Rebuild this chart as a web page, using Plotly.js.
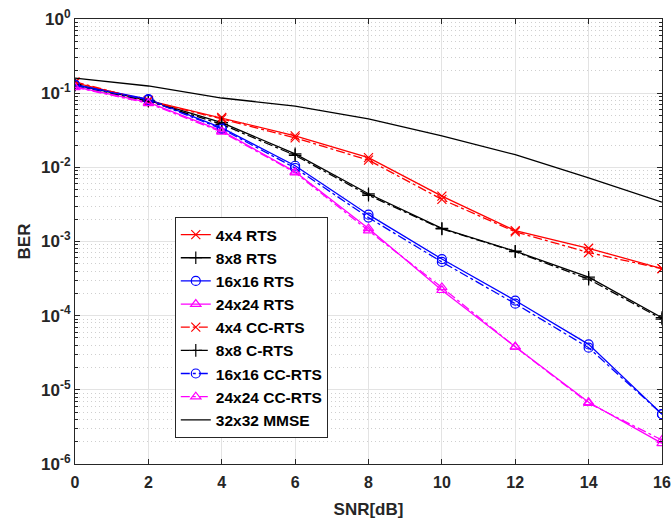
<!DOCTYPE html>
<html><head><meta charset="utf-8">
<script src="https://cdn.plot.ly/plotly-3.0.1.min.js"></script>
<style>html,body{margin:0;padding:0;background:#fff}#c{width:671px;height:519px}</style>
</head><body><div id="c"></div>
<script>
const snr = [0, 2, 4, 6, 8, 10, 12, 14, 16];
const rts4 = [0.138, 0.080, 0.047, 0.0266, 0.0135, 0.0041, 0.0014, 0.00081, 0.00043];
const rts8 = [0.130, 0.080, 0.040, 0.0152, 0.0044, 0.0015, 0.00074, 0.00033, 9.4e-5];
const rts16 = [0.130, 0.083, 0.034, 0.0105, 0.0023, 0.00058, 0.00016, 4.1e-5, 4.7e-6];
const rts24 = [0.122, 0.075, 0.031, 0.0087, 0.0015, 0.00022, 3.8e-5, 6.8e-6, 1.9e-6];
const cc4 = [0.142, 0.078, 0.045, 0.025, 0.0125, 0.0037, 0.00135, 0.00071, 0.00043];
const cc8 = [0.128, 0.078, 0.038, 0.0145, 0.0042, 0.00148, 0.00073, 0.00031, 9.0e-5];
const cc16 = [0.128, 0.081, 0.033, 0.0098, 0.0021, 0.00053, 0.000145, 3.7e-5, 4.7e-6];
const cc24 = [0.120, 0.073, 0.030, 0.0085, 0.0014, 0.00024, 3.8e-5, 6.6e-6, 2.1e-6];
const mmse = [0.160, 0.125, 0.086, 0.067, 0.045, 0.0266, 0.0148, 0.0072, 0.0034];
const yTickVals = [1e-6, 1e-5, 1e-4, 1e-3, 1e-2, 1e-1, 1];
const yTickText = ['10<sup>-6</sup>','10<sup>-5</sup>','10<sup>-4</sup>','10<sup>-3</sup>','10<sup>-2</sup>','10<sup>-1</sup>','10<sup>0</sup>'];

function tr(name, y, color, symbol, dash, showMarker) {
  return {
    x: snr, y: y, name: name, type: 'scatter',
    mode: showMarker ? 'lines+markers' : 'lines',
    line: {color: color, width: 1.3, dash: dash},
    marker: {symbol: symbol, size: 9, color: color, line: {color: color, width: 1.2}}
  };
}
const data = [
  tr('4x4 RTS', rts4, '#ff0000', 'x-thin-open', 'solid', true),
  tr('8x8 RTS', rts8, '#000000', 'cross-thin-open', 'solid', true),
  tr('16x16 RTS', rts16, '#0000ff', 'circle-open', 'solid', true),
  tr('24x24 RTS', rts24, '#ff00ff', 'triangle-up-open', 'solid', true),
  tr('4x4 CC-RTS', cc4, '#ff0000', 'x-thin-open', 'dashdot', true),
  tr('8x8 C-RTS', cc8, '#000000', 'cross-thin-open', 'dashdot', true),
  tr('16x16 CC-RTS', cc16, '#0000ff', 'circle-open', 'dashdot', true),
  tr('24x24 CC-RTS', cc24, '#ff00ff', 'triangle-up-open', 'dashdot', true),
  tr('32x32 MMSE', mmse, '#000000', 'circle', 'solid', false)
];
const fontFam = 'Liberation Sans, Arial, sans-serif';
const minorVals = (function(){const a=[];for(let e=-6;e<0;e++){for(let m=2;m<=9;m++){a.push(m*Math.pow(10,e));}}return a;})();
const layout = {
  width: 671, height: 519,
  margin: {l: 75, r: 9, t: 19, b: 55},
  paper_bgcolor: '#fff', plot_bgcolor: '#fff',
  font: {family: fontFam, size: 16, color: '#262626', weight: 'bold'},
  showlegend: true,
  legend: {x: 0.17, y: 0.555, xanchor: 'left', yanchor: 'top',
    bgcolor: '#fff', bordercolor: '#262626', borderwidth: 1,
    font: {family: fontFam, size: 15.5, color: '#000', weight: 'bold'},
    tracegroupgap: 0, itemwidth: 30},
  xaxis: {
    range: [0, 16], dtick: 2, tick0: 0,
    showgrid: true, gridcolor: '#e3e3e3', gridwidth: 1,
    showline: true, linecolor: '#262626', linewidth: 1, mirror: 'ticks',
    ticks: 'inside', ticklen: 5, tickcolor: '#262626',
    ticklabelstandoff: 4,
    zeroline: false,
    tickfont: {family: fontFam, size: 16, color: '#262626', weight: 'bold'},
    title: {text: 'SNR[dB]', font: {family: fontFam, size: 17, color: '#262626', weight: 'bold'}, standoff: 14}
  },
  yaxis: {
    type: 'log', range: [-6, 0],
    tickvals: yTickVals, ticktext: yTickText,
    showgrid: true, gridcolor: '#e3e3e3', gridwidth: 1,
    showline: true, linecolor: '#262626', linewidth: 1, mirror: 'ticks',
    ticks: 'inside', ticklen: 5, tickcolor: '#262626',
    zeroline: false,
    minor: {tickvals: minorVals,
      ticks: 'inside', ticklen: 3, tickcolor: '#262626', showgrid: true, gridcolor: '#cfcfcf', griddash: '1px,3px', gridwidth: 1},
    tickfont: {family: fontFam, size: 17, color: '#262626', weight: 'bold'},
    title: {text: 'BER', font: {family: fontFam, size: 17, color: '#262626', weight: 'bold'}, standoff: 6}
  }
};
Plotly.newPlot('c', data, layout, {displayModeBar: false, staticPlot: true});
</script></body></html>
